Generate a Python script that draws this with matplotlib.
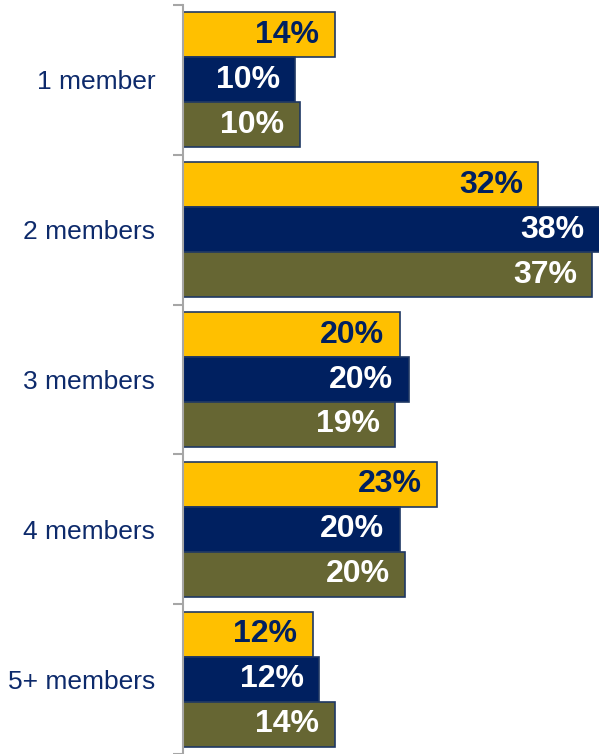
import matplotlib.pyplot as plt
import numpy as np

categories = ["1 member", "2 members", "3 members", "4 members", "5+ members"]
series_a = [13.8, 32.3, 19.7, 23.1, 11.8]   # yellow
series_b = [10.2, 37.9, 20.5, 19.7, 12.4]   # navy
series_c = [10.6, 37.2, 19.3, 20.2, 13.8]   # olive
labels_a = ["14%", "32%", "20%", "23%", "12%"]
labels_b = ["10%", "38%", "20%", "20%", "12%"]
labels_c = ["10%", "37%", "19%", "20%", "14%"]

colours = ["#FFC000", "#002060", "#666633"]
text_colours = ["#002060", "white", "white"]
edge = "#1F3864"

fig = plt.figure(figsize=(5.99, 7.54), dpi=100)
ax = fig.add_axes([183 / 599, 0, 416 / 599, 749 / 754])

y = np.arange(len(categories))
h = 0.3
for i, (vals, labs) in enumerate([(series_a, labels_a), (series_b, labels_b), (series_c, labels_c)]):
    pos = y + (i - 1) * h
    ax.barh(pos, vals, height=h, color=colours[i], edgecolor=edge, linewidth=1.2)
    for p, v, lab in zip(pos, vals, labs):
        ax.text(v - 1.4, p, lab, ha="right", va="center", fontsize=23,
                fontweight="bold", color=text_colours[i], family=["Liberation Sans", "DejaVu Sans"])

ax.set_xlim(0, 37.8)
ax.set_ylim(4.5, -0.5)

for s in ["top", "right", "bottom"]:
    ax.spines[s].set_visible(False)
ax.spines["left"].set_color("#A6A6A6")
ax.spines["left"].set_linewidth(1.5)
ax.set_xticks([])

ax.set_yticks(np.arange(-0.5, 5.0, 1.0))
ax.set_yticklabels([])
ax.tick_params(axis="y", which="major", length=7.5, width=1.5, color="#A6A6A6")
ax.set_yticks(y, minor=True)
ax.set_yticklabels(categories, minor=True, fontsize=19,
                   family=["Liberation Sans", "DejaVu Sans"], color="#0D2A6B")
ax.tick_params(axis="y", which="minor", length=0, pad=20)

fig.savefig("out.png", dpi=100)
